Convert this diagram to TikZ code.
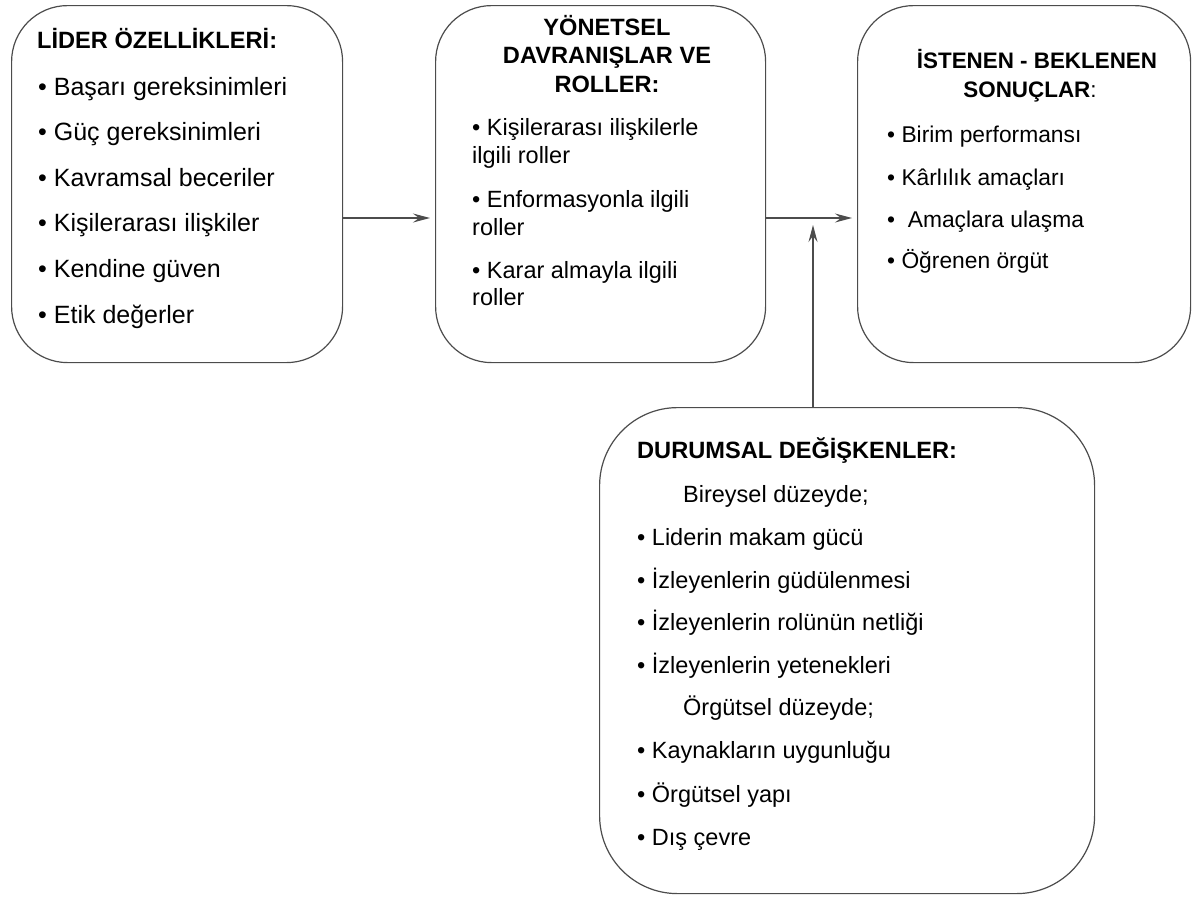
\documentclass[tikz,border=0pt]{standalone}
\usepackage{fontspec}
\setmainfont{Liberation Sans}
\usetikzlibrary{arrows.meta}

\tikzset{
  kutu/.style={draw=black!70, line width=1.2pt, rounded corners=56pt, inner sep=0pt, anchor=north west},
  baslik/.style={font=\bfseries\fontsize{23.6}{28}\selectfont, inner sep=0pt, anchor=base},
  madde/.style={font=\fontsize{23.5}{28}\selectfont, inner sep=0pt, anchor=base west},
  ok/.style={draw=black!70, line width=1.1pt, -{Stealth[length=17pt,width=9pt,inset=6pt]}}
}

\begin{document}
\begin{tikzpicture}[x=1pt, y=-1pt]
\useasboundingbox (0,0) rectangle (1194,898);

% Create the four rounded boxes
\node[kutu, minimum width=331pt, minimum height=357pt] (lider) at (11,5) {};
\node[kutu, minimum width=330pt, minimum height=357pt] (yonetsel) at (435,5) {};
\node[kutu, minimum width=333pt, minimum height=357pt] (sonuc) at (857,5) {};
\node[kutu, rounded corners=78pt, minimum width=495pt, minimum height=486pt] (durum) at (599,407) {};

% Left box
\node[baslik, anchor=base west] (liderbaslik) at (37,48) {LİDER ÖZELLİKLERİ:};
\foreach \t [count=\i] in {Başarı gereksinimleri, Güç gereksinimleri, Kavramsal beceriler,
    Kişilerarası ilişkiler, Kendine güven, Etik değerler}
  \node[madde, font=\fontsize{25}{30}\selectfont] (lid\i) at (38,{95+45.6*(\i-1)}) {• \t};

% Middle box
\foreach \y/\t [count=\i] in {35/YÖNETSEL, 63/DAVRANIŞLAR VE, 92/ROLLER:}
  \node[baslik] (yonbaslik\i) at (607,\y) {\t};
\foreach \y/\t [count=\i] in {135/• Kişilerarası ilişkilerle, 163/ilgili roller,
    207/• Enformasyonla ilgili, 235/roller, 278/• Karar almayla ilgili, 305/roller}
  \node[madde] (yon\i) at (472,\y) {\t};

% Right box
\node[baslik, font=\bfseries\fontsize{22.4}{28}\selectfont] (sonucbaslik1) at (1037,68) {İSTENEN - BEKLENEN};
\node[baslik, font=\bfseries\fontsize{22.4}{28}\selectfont] (sonucbaslik2) at (1030,97) {SONUÇLAR\textmd{:}};
\foreach \y/\t [count=\i] in {142/• Birim performansı, 185/• Kârlılık amaçları,
    227/•\ \ Amaçlara ulaşma, 268/• Öğrenen örgüt}
  \node[madde, font=\fontsize{22.8}{28}\selectfont] (son\i) at (887,\y) {\t};

% Bottom box
\node[baslik, anchor=base west] (durumbaslik) at (637,458) {DURUMSAL DEĞİŞKENLER:};
\foreach \x/\y/\t [count=\i] in {683/502/Bireysel düzeyde;, 637/545/• Liderin makam gücü,
    637/588/• İzleyenlerin güdülenmesi, 637/630/• İzleyenlerin rolünün netliği,
    637/673/• İzleyenlerin yetenekleri, 683/715/Örgütsel düzeyde;,
    637/758/• Kaynakların uygunluğu, 637/802/• Örgütsel yapı, 637/845/• Dış çevre}
  \node[madde] (dur\i) at (\x,\y) {\t};

% Arrows
\coordinate (akis) at (0,218);
\coordinate (ucu) at (813,225);
\draw[ok, shorten >=5pt] (lider.east |- akis) -- (yonetsel.west |- akis);
\draw[ok, shorten >=5pt] (yonetsel.east |- akis) -- (sonuc.west |- akis);
\draw[ok] (durum.north -| ucu) -- (ucu);

\end{tikzpicture}
\end{document}
